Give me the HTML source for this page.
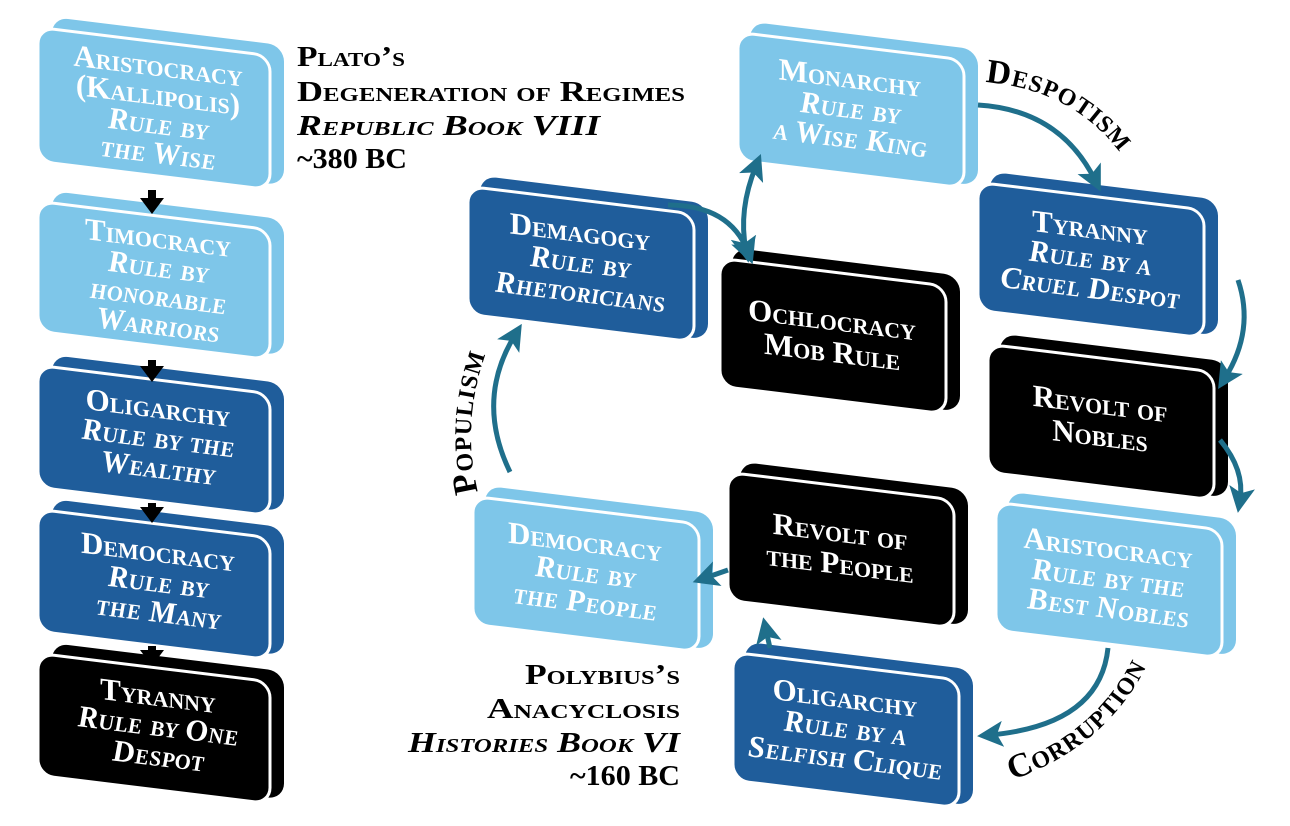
<!DOCTYPE html>
<html><head><meta charset="utf-8"><style>
html,body{margin:0;padding:0;background:#fff;}
svg{display:block;}
.t{font-family:"Liberation Serif",serif;font-variant:small-caps;font-weight:bold;fill:#fff;font-size:31px;text-anchor:middle;}
.i{font-style:italic;}
.k{font-family:"Liberation Serif",serif;font-variant:small-caps;font-weight:bold;fill:#000;font-size:29px;}
.c{font-family:"Liberation Serif",serif;font-variant:small-caps;font-weight:bold;fill:#000;font-size:34px;letter-spacing:1px;}
</style></head><body>
<svg width="1290" height="826" viewBox="0 0 1290 826" xmlns="http://www.w3.org/2000/svg">
<defs>
<marker id="tb" markerWidth="26" markerHeight="26" refX="13" refY="13" orient="auto" markerUnits="userSpaceOnUse" viewBox="0 0 26 26"><path d="M0,0 L26,13 L0,26 L6,13 z" fill="#1f6f8b"/></marker>
<marker id="tbs" markerWidth="26" markerHeight="26" refX="13" refY="13" orient="auto-start-reverse" markerUnits="userSpaceOnUse" viewBox="0 0 26 26"><path d="M0,0 L26,13 L0,26 L6,13 z" fill="#1f6f8b"/></marker>
</defs>

<!-- LEFT COLUMN -->
<g transform="translate(158,108) skewY(7)">
<rect x="-106" y="-78" width="232" height="140" rx="16" fill="#7ec6e9"/>
<rect x="-120" y="-66" width="232" height="134" rx="16" fill="#7ec6e9" stroke="#fff" stroke-width="3"/>
<text class="t" y="-32">Aristocracy</text><text class="t" y="-3">(Kallipolis)</text><text class="t i" y="26">Rule by</text><text class="t i" y="55">the Wise</text>
</g>
<g transform="translate(158,280) skewY(7)">
<rect x="-106" y="-76" width="232" height="136" rx="16" fill="#7ec6e9"/>
<rect x="-120" y="-64" width="232" height="130" rx="16" fill="#7ec6e9" stroke="#fff" stroke-width="3"/>
<text class="t" y="-32">Timocracy</text><text class="t i" y="-3">Rule by</text><text class="t i" y="26">honorable</text><text class="t i" y="55">Warriors</text>
</g>
<g transform="translate(158,438) skewY(7)">
<rect x="-106" y="-70" width="232" height="128" rx="16" fill="#1f5d9b"/>
<rect x="-120" y="-58" width="232" height="122" rx="16" fill="#1f5d9b" stroke="#fff" stroke-width="3"/>
<text class="t" y="-20">Oligarchy</text><text class="t i" y="10">Rule by the</text><text class="t i" y="40">Wealthy</text>
</g>
<g transform="translate(158,582) skewY(7)">
<rect x="-106" y="-70" width="232" height="128" rx="16" fill="#1f5d9b"/>
<rect x="-120" y="-58" width="232" height="122" rx="16" fill="#1f5d9b" stroke="#fff" stroke-width="3"/>
<text class="t" y="-20">Democracy</text><text class="t i" y="10">Rule by</text><text class="t i" y="40">the Many</text>
</g>
<g transform="translate(158,726) skewY(7)">
<rect x="-106" y="-70" width="232" height="128" rx="16" fill="#000"/>
<rect x="-120" y="-58" width="232" height="122" rx="16" fill="#000" stroke="#fff" stroke-width="3"/>
<text class="t" y="-20">Tyranny</text><text class="t i" y="10">Rule by One</text><text class="t i" y="40">Despot</text>
</g>
<g fill="#000">
<path d="M148,190 h8 v8 h8 l-12,16 l-12,-16 h8 z"/>
<path d="M148,360 h8 v6 h8 l-12,16 l-12,-16 h8 z"/>
<path d="M148,503 h8 v4 h8 l-12,16 l-12,-16 h8 z"/>
<path d="M148,646 h8 v4 h8 l-12,16 l-12,-16 h8 z"/>
</g>

<text class="k" x="297" y="66" textLength="108" lengthAdjust="spacingAndGlyphs">Plato’s</text>
<text class="k" x="297" y="101" textLength="388" lengthAdjust="spacingAndGlyphs">Degeneration of Regimes</text>
<text class="k" x="297" y="135" font-style="italic" textLength="303" lengthAdjust="spacingAndGlyphs">Republic Book VIII</text>
<text class="k" x="297" y="168" textLength="110" lengthAdjust="spacingAndGlyphs">~380 BC</text>

<text class="k" x="525" y="684" textLength="155" lengthAdjust="spacingAndGlyphs">Polybius’s</text>
<text class="k" x="487" y="718" textLength="193" lengthAdjust="spacingAndGlyphs">Anacyclosis</text>
<text class="k" x="408" y="752" font-style="italic" textLength="272" lengthAdjust="spacingAndGlyphs">Histories Book VI</text>
<text class="k" x="570" y="785" textLength="110" lengthAdjust="spacingAndGlyphs">~160 BC</text>

<!-- RIGHT BOXES -->
<g transform="translate(850,108) skewY(7)">
<rect x="-100" y="-74" width="228" height="136" rx="16" fill="#7ec6e9"/>
<rect x="-112" y="-62" width="226" height="128" rx="16" fill="#7ec6e9" stroke="#fff" stroke-width="3"/>
<text class="t" y="-20">Monarchy</text><text class="t i" y="10">Rule by</text><text class="t i" y="40">a Wise King</text>
</g>
<g transform="translate(580,262) skewY(7)">
<rect x="-100" y="-74" width="228" height="136" rx="16" fill="#1f5d9b"/>
<rect x="-112" y="-62" width="226" height="128" rx="16" fill="#1f5d9b" stroke="#fff" stroke-width="3"/>
<text class="t" y="-20">Demagogy</text><text class="t i" y="10">Rule by</text><text class="t i" y="40">Rhetoricians</text>
</g>
<g transform="translate(832,334) skewY(7)">
<rect x="-100" y="-74" width="228" height="136" rx="16" fill="#000"/>
<rect x="-112" y="-62" width="226" height="128" rx="16" fill="#000" stroke="#fff" stroke-width="3"/>
<text class="t" y="-4">Ochlocracy</text><text class="t" y="28">Mob Rule</text>
</g>
<g transform="translate(1090,258) skewY(7)">
<rect x="-100" y="-74" width="228" height="136" rx="16" fill="#1f5d9b"/>
<rect x="-112" y="-62" width="226" height="128" rx="16" fill="#1f5d9b" stroke="#fff" stroke-width="3"/>
<text class="t" y="-20">Tyranny</text><text class="t i" y="10">Rule by a</text><text class="t i" y="40">Cruel Despot</text>
</g>
<g transform="translate(1100,420) skewY(7)">
<rect x="-100" y="-74" width="228" height="136" rx="16" fill="#000"/>
<rect x="-112" y="-62" width="226" height="128" rx="16" fill="#000" stroke="#fff" stroke-width="3"/>
<text class="t" y="-6">Revolt of</text><text class="t" y="26">Nobles</text>
</g>
<g transform="translate(1108,578) skewY(7)">
<rect x="-100" y="-74" width="228" height="136" rx="16" fill="#7ec6e9"/>
<rect x="-112" y="-62" width="226" height="128" rx="16" fill="#7ec6e9" stroke="#fff" stroke-width="3"/>
<text class="t" y="-20">Aristocracy</text><text class="t i" y="10">Rule by the</text><text class="t i" y="40">Best Nobles</text>
</g>
<g transform="translate(585,572) skewY(7)">
<rect x="-100" y="-74" width="228" height="136" rx="16" fill="#7ec6e9"/>
<rect x="-112" y="-62" width="226" height="128" rx="16" fill="#7ec6e9" stroke="#fff" stroke-width="3"/>
<text class="t" y="-20">Democracy</text><text class="t i" y="10">Rule by</text><text class="t i" y="40">the People</text>
</g>
<g transform="translate(840,548) skewY(7)">
<rect x="-100" y="-74" width="228" height="136" rx="16" fill="#000"/>
<rect x="-112" y="-62" width="226" height="128" rx="16" fill="#000" stroke="#fff" stroke-width="3"/>
<text class="t" y="-6">Revolt of</text><text class="t" y="26">the People</text>
</g>
<g transform="translate(845,728) skewY(7)">
<rect x="-100" y="-74" width="228" height="136" rx="16" fill="#1f5d9b"/>
<rect x="-112" y="-62" width="226" height="128" rx="16" fill="#1f5d9b" stroke="#fff" stroke-width="3"/>
<text class="t" y="-20">Oligarchy</text><text class="t i" y="10">Rule by a</text><text class="t i" y="40">Selfish Clique</text>
</g>

<!-- ARROWS -->
<g fill="none" stroke="#1f6f8b" stroke-width="5">
<path d="M978,105 Q1060,110 1095,180" marker-end="url(#tb)"/>
<path d="M1238,280 Q1255,330 1225,378" marker-end="url(#tb)"/>
<path d="M1220,440 Q1245,470 1240,500" marker-end="url(#tb)"/>
<path d="M1108,648 Q1100,725 990,735" marker-end="url(#tb)"/>
<path d="M770,648 L766,630" marker-end="url(#tb)"/>
<path d="M728,570 L705,578" marker-end="url(#tb)"/>
<path d="M510,472 Q475,400 515,335" marker-end="url(#tb)"/>
<path d="M668,205 Q730,205 748,252" marker-end="url(#tb)"/>
<path d="M746,250 Q738,210 756,166" marker-end="url(#tbs)" marker-start="url(#tbs)"/>
</g>

<!-- CURVED LABELS -->
<path id="p1" d="M985,82 Q1100,92 1145,197" fill="none"/>
<text class="c"><textPath href="#p1">Despotism</textPath></text>
<path id="p2" d="M478,492 Q455,400 508,305" fill="none"/>
<text class="c"><textPath href="#p2">Populism</textPath></text>
<path id="p3" d="M1012,780 Q1120,742 1158,640" fill="none"/>
<text class="c" font-size="30"><textPath href="#p3">Corruption</textPath></text>
</svg>
</body></html>
